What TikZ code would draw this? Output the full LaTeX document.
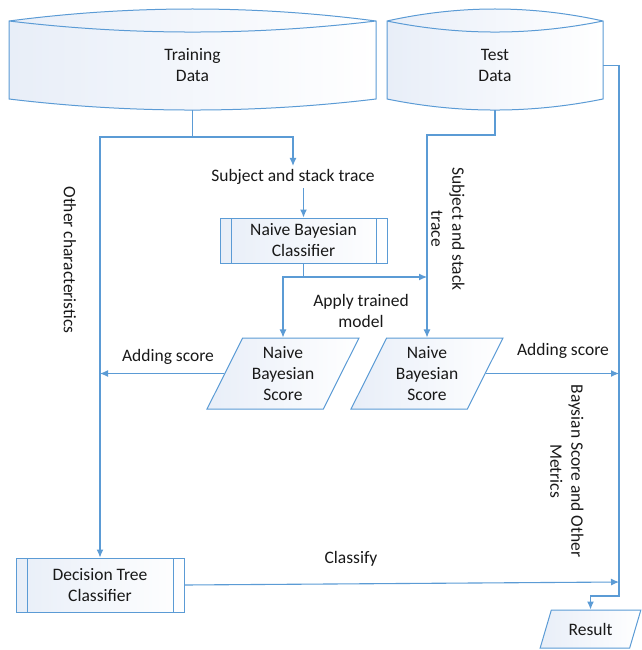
\documentclass[tikz,border=0pt]{standalone}
\usepackage{fontspec}
\setmainfont{Carlito}
\usetikzlibrary{arrows.meta,shapes.geometric}
\definecolor{lineblue}{RGB}{91,155,213}
\definecolor{shadeblue}{RGB}{232,238,248}

\begin{document}
\begin{tikzpicture}[x=1pt,y=-1pt,
    every node/.style={font=\fontsize{17.5}{21}\selectfont,text=black!90},
    conn/.style={draw=lineblue,line width=1.1pt},
    arr/.style={conn,-{Latex[length=8pt,width=7pt]}},
    drumtext/.style={align=center,inner sep=0pt},
    procbox/.style={draw=lineblue,line width=1pt,left color=shadeblue,right color=white,
        align=center,inner sep=2pt,
        path picture={\draw[lineblue,line width=1pt]
            ([xshift=11pt]path picture bounding box.north west) -- ([xshift=11pt]path picture bounding box.south west)
            ([xshift=-11pt]path picture bounding box.north east) -- ([xshift=-11pt]path picture bounding box.south east);}},
    iobox/.style={trapezium,trapezium left angle=63,trapezium right angle=117,trapezium stretches=true,
        draw=lineblue,line width=1pt,left color=shadeblue,right color=white,align=center,inner sep=0pt}]
    \useasboundingbox (0,0) rectangle (641,650);

    \def\ta{9}  \def\tb{376}
    \def\sa{387} \def\sb{603}

    % data stores
    \shade[left color=shadeblue,right color=white] (\ta,21) .. controls (131,5) and (254,5) .. (\tb,21)
        -- (\tb,99) .. controls (254,113.7) and (131,113.7) .. (\ta,99) -- cycle;
    \draw[lineblue,line width=1pt] (\ta,21) .. controls (131,5) and (254,5) .. (\tb,21)
        -- (\tb,99) .. controls (254,113.7) and (131,113.7) .. (\ta,99) -- cycle
        (\ta,21) .. controls (131,35.7) and (254,35.7) .. (\tb,21);
    \shade[left color=shadeblue,right color=white] (\sa,21) .. controls (459,5) and (531,5) .. (\sb,21)
        -- (\sb,99) .. controls (531,113.7) and (459,113.7) .. (\sa,99) -- cycle;
    \draw[lineblue,line width=1pt] (\sa,21) .. controls (459,5) and (531,5) .. (\sb,21)
        -- (\sb,99) .. controls (531,113.7) and (459,113.7) .. (\sa,99) -- cycle
        (\sa,21) .. controls (459,35.7) and (531,35.7) .. (\sb,21);

    \node[drumtext,minimum width=367,minimum height=89] (train) at (192.5,65.5) {Training\\Data};
    \node[drumtext,minimum width=216,minimum height=89] (test) at (495,65.5) {Test\\Data};

    \node[procbox,minimum width=167,minimum height=45] (nbc) at (303.5,240.5) {Naive Bayesian\\Classifier};
    \node[procbox,minimum width=168,minimum height=54] (dtc) at (100,585) {Decision Tree\\Classifier};

    \node[iobox,minimum width=152,minimum height=71] (nbs1) at (283,373.5) {Naive\\Bayesian\\Score};
    \node[iobox,minimum width=152,minimum height=71] (nbs2) at (427,373.5) {Naive\\Bayesian\\Score};
    \node[iobox,minimum width=101,minimum height=38] (result) at (590.5,629) {Result};

    \node (subj) at (293,177) {Subject and stack trace};
    \node[align=center] (apply) at (361,311) {Apply trained\\model};
    \node (addl) at (168,357) {Adding score};
    \node (addr) at (563,351) {Adding score};
    \node (classify) at (351,559) {Classify};
    \node[rotate=-90] (other) at (70,260) {Other characteristics};
    \node[rotate=-90,align=center] (subjv) at (448,229) {Subject and stack\\trace};
    \node[rotate=-90,align=center] (metrics) at (567,471) {Baysian Score and Other\\Metrics};

    \coordinate (trainrow) at (0,137);
    \coordinate (testrow) at (0,135);
    \coordinate (nbcrow) at (0,277);
    \coordinate (resrow) at (0,596);
    \coordinate (rline) at (619,66);
    \coordinate (classend) at (619,582);

    \draw[arr] (train.south) |- (subj.north |- trainrow) -- (subj.north);
    \draw[arr] (train.south |- trainrow) -| (dtc.north);
    \draw[arr] (subj.south -| nbc.north) -- (nbc.north);
    \draw[conn] (nbc.south) -- (nbc.south |- nbcrow);
    \draw[arr] (nbc.south |- nbcrow) -| (nbs1.north);
    \draw[arr] (nbs1.north |- nbcrow) -- (nbs2.north |- nbcrow);
    \draw[arr] (test.south) |- (nbs2.north |- testrow) -- (nbs2.north);
    \draw[arr] (nbs1.west) -- (nbs1.west -| dtc.north);
    \draw[arr] (nbs2.east) -- (nbs2.east -| rline);
    \draw[arr] (test.east) -| (rline |- resrow) -| (result.north);
    \draw[arr] (dtc.east) -- (classend);
\end{tikzpicture}
\end{document}
